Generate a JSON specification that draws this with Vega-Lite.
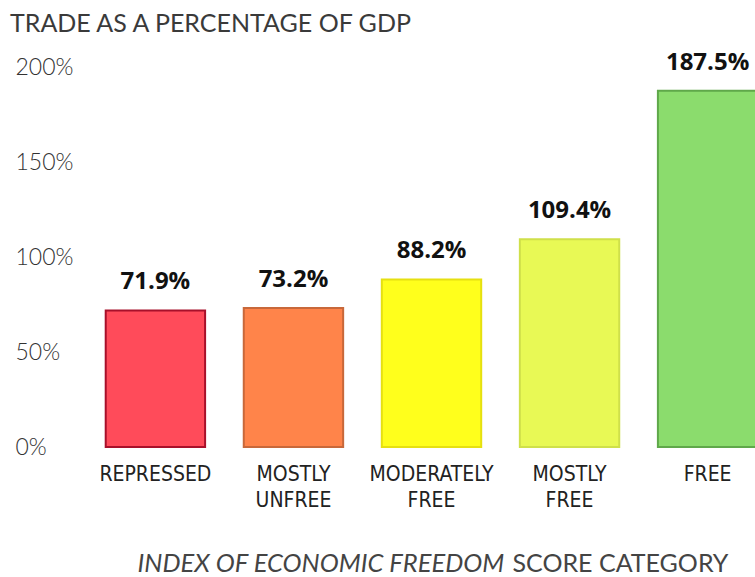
{
  "$schema": "https://vega.github.io/schema/vega-lite/v6.json",
  "width": 693,
  "height": 380,
  "padding": {"left": 10, "top": 11, "right": 5, "bottom": 5},
  "background": "white",
  "title": {
    "text": "TRADE AS A PERCENTAGE OF GDP",
    "anchor": "start",
    "frame": "bounds",
    "font": "Lato",
    "fontSize": 25,
    "fontWeight": "normal",
    "color": "#3a3a3a",
    "dx": -5,
    "offset": 14
  },
  "data": {
    "values": [
      {"category": "REPRESSED", "trade": 0.719},
      {"category": "MOSTLY UNFREE", "trade": 0.732},
      {"category": "MODERATELY FREE", "trade": 0.882},
      {"category": "MOSTLY FREE", "trade": 1.094},
      {"category": "FREE", "trade": 1.875}
    ]
  },
  "encoding": {
    "x": {
      "field": "category",
      "type": "nominal",
      "sort": null,
      "scale": {"paddingInner": 0.28, "paddingOuter": 0.15}
    }
  },
  "layer": [
    {
      "mark": {"type": "bar", "strokeWidth": 2},
      "encoding": {
        "x": {
          "field": "category",
          "type": "nominal",
          "sort": null,
          "axis": {
            "orient": "bottom",
            "labelAngle": 0,
            "labelExpr": "split(datum.label, ' ')",
            "labelFont": "DejaVu Sans Condensed",
            "labelFontSize": 21,
            "labelColor": "#222222",
            "labelLineHeight": 26,
            "labelPadding": 16,
            "labelBaseline": "top",
            "ticks": false,
            "domain": false,
            "title": "INDEX OF ECONOMIC FREEDOM",
            "titleFont": "Lato",
            "titleFontSize": 25.5,
            "titleFontStyle": "italic",
            "titleFontWeight": "normal",
            "titleColor": "#444444",
            "titleAlign": "left",
            "titleAnchor": "start",
            "titleBaseline": "alphabetic",
            "titleX": 52,
            "titleY": 124
          }
        },
        "y": {
          "field": "trade",
          "type": "quantitative",
          "scale": {"domain": [0, 2], "nice": false},
          "axis": {
            "values": [0, 0.5, 1, 1.5, 2],
            "format": ".0%",
            "title": null,
            "grid": false,
            "domain": false,
            "ticks": false,
            "labelAlign": "left",
            "labelPadding": 70,
            "labelFont": "Lato",
            "labelFontWeight": 300,
            "labelFontSize": 23,
            "labelColor": "#333333"
          }
        },
        "color": {
          "field": "category",
          "type": "nominal",
          "legend": null,
          "scale": {
            "domain": ["REPRESSED", "MOSTLY UNFREE", "MODERATELY FREE", "MOSTLY FREE", "FREE"],
            "range": ["#FF4B5A", "#FF844A", "#FFFF1C", "#E8F955", "#8BDC6D"]
          }
        },
        "stroke": {
          "field": "category",
          "type": "nominal",
          "legend": null,
          "scale": {
            "domain": ["REPRESSED", "MOSTLY UNFREE", "MODERATELY FREE", "MOSTLY FREE", "FREE"],
            "range": ["#A8102A", "#C8683A", "#E6E010", "#CFE04A", "#5FA84A"]
          }
        }
      }
    },
    {
      "mark": {"type": "text", "dy": -16, "baseline": "bottom", "font": "Open Sans", "fontWeight": "bold", "fontSize": 24, "color": "#111111"},
      "encoding": {
        "x": {
          "field": "category",
          "type": "nominal",
          "sort": null,
          "axis": {
            "orient": "bottom",
            "labels": false,
            "ticks": false,
            "domain": false,
            "title": "SCORE CATEGORY",
            "titleFont": "Lato",
            "titleFontSize": 25,
            "titleFontWeight": "normal",
            "titleColor": "#444444",
            "titleAlign": "left",
            "titleAnchor": "start",
            "titleBaseline": "alphabetic",
            "titleX": 427,
            "titleY": 124
          }
        },
        "y": {"field": "trade", "type": "quantitative"},
        "text": {"field": "trade", "type": "quantitative", "format": ".1%"}
      }
    }
  ],
  "resolve": {"axis": {"x": "independent"}},
  "config": {"view": {"stroke": null}}
}
